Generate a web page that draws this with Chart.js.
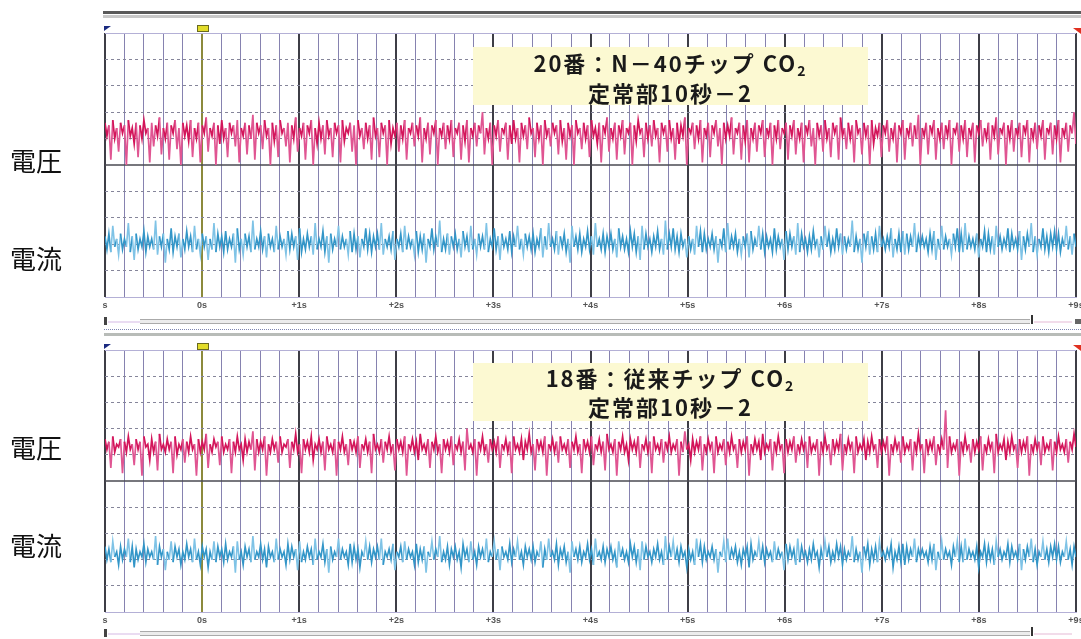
<!DOCTYPE html>
<html><head><meta charset="utf-8">
<script src="https://cdn.jsdelivr.net/npm/chart.js@4.4.1/dist/chart.umd.min.js"></script>
<style>
html,body{margin:0;padding:0;background:#fff;overflow:hidden;width:1081px;height:639px;}
#wrap{position:relative;width:1081px;height:639px;overflow:hidden;}
canvas{position:absolute;left:0;}
.d{position:absolute;}
.side{position:absolute;left:10px;font-family:"Noto Sans CJK JP";font-size:26px;line-height:26px;color:#111;white-space:nowrap;}
.title{position:absolute;left:473px;width:395px;background:#fcf9d2;text-align:center;font-family:"Noto Sans CJK JP";font-weight:700;font-size:22px;color:#1a1a1a;white-space:nowrap;letter-spacing:2px;}
.title sub{font-size:14px;vertical-align:-4px;line-height:0;}
</style></head>
<body><div id="wrap">
<canvas id="c1" width="1100" height="315" style="top:0"></canvas>
<canvas id="c2" width="1100" height="313" style="top:317px"></canvas>

<!-- decorations -->
<div class="d" style="top:11px;left:103px;width:978px;height:3px;background:#5a5a5a"></div>
<div class="d" style="top:15px;left:103px;width:978px;height:3px;background:#c8c8c8"></div>

<div class="d" style="left:104px;top:26px;width:0;height:0;border-top:5px solid #1a2a80;border-right:7px solid transparent"></div>
<div class="d" style="left:197px;top:25px;width:10px;height:5px;background:#e2dc2a;border:1px solid #6a6a20"></div>
<div class="d" style="left:1073px;top:28px;width:0;height:0;border-top:6px solid #e03020;border-left:8px solid transparent"></div>

<div class="d" style="left:104px;top:317px;width:3px;height:8px;background:#444"></div>
<div class="d" style="left:108px;top:321px;width:32px;height:2px;background:#eadcf2"></div>
<div class="d" style="left:140px;top:319px;width:890px;height:3px;background:#ececec;border-top:1px solid #aaa;border-bottom:1px solid #aaa"></div>
<div class="d" style="left:1031px;top:315px;width:2px;height:9px;background:#333"></div>
<div class="d" style="left:1034px;top:321px;width:38px;height:2px;background:#f2dcea"></div>
<div class="d" style="left:1075px;top:319px;width:6px;height:5px;background:#666"></div>
<div class="d" style="left:104px;top:329px;width:977px;height:0;border-top:1px dotted #7c84b0"></div>
<div class="d" style="left:104px;top:333px;width:977px;height:3px;background:#b8bcb8"></div>

<div class="d" style="left:104px;top:344px;width:0;height:0;border-top:5px solid #1a2a80;border-right:7px solid transparent"></div>
<div class="d" style="left:197px;top:343px;width:10px;height:5px;background:#e2dc2a;border:1px solid #6a6a20"></div>
<div class="d" style="left:1073px;top:345px;width:0;height:0;border-top:6px solid #e03020;border-left:8px solid transparent"></div>

<div class="d" style="left:104px;top:629px;width:3px;height:8px;background:#444"></div>
<div class="d" style="left:108px;top:633px;width:32px;height:2px;background:#eadcf2"></div>
<div class="d" style="left:140px;top:631px;width:890px;height:3px;background:#ececec;border-top:1px solid #aaa;border-bottom:1px solid #aaa"></div>
<div class="d" style="left:1031px;top:627px;width:2px;height:9px;background:#333"></div>
<div class="d" style="left:1034px;top:633px;width:38px;height:2px;background:#f2dcea"></div>

<div class="title" style="top:47px;height:58px;line-height:30px;">20番：N－40チップ CO<sub>2</sub><br>定常部10秒－2</div>
<div class="title" style="top:363px;height:58px;line-height:29px;">18番：従来チップ CO<sub>2</sub><br>定常部10秒－2</div>

<div class="side" style="top:147px">電圧</div>
<div class="side" style="top:245px">電流</div>
<div class="side" style="top:434px">電圧</div>
<div class="side" style="top:532px">電流</div>
</div>
<script>
// ---- data (vertical units: 10 per grid division, 0 = panel bottom) ----
const timeStart = -1, timeEnd = 9; // seconds
const tickLabels = {"-1":"s","0":"0s","1":"+1s","2":"+2s","3":"+3s","4":"+4s","5":"+5s","6":"+6s","7":"+7s","8":"+8s","9":"+9s"};

const topVoltage = [
66,61,65,52,67,60,64,55,66,62, 65,50,67,61,64,58,66,53,65,60, 67,62,64,51,66,57,65,61,68,54,
64,60,66,52,65,62,67,56,64,50, 66,61,65,59,67,53,64,60,66,51, 65,62,68,55,64,61,66,50,65,58,
67,60,64,53,66,62,65,57,67,51, 64,61,66,54,65,60,69,52,66,62, 65,56,67,61,64,50,66,59,65,53,
67,62,64,57,66,51,65,60,68,55, 64,61,66,52,65,62,67,50,64,58, 66,60,65,54,67,61,64,53,66,62,
65,51,67,59,64,62,66,55,65,50, 67,61,64,56,66,60,65,52,68,61, 64,53,66,62,65,50,67,58,64,61,
66,55,65,60,67,52,64,62,66,57, 65,61,68,51,64,60,66,54,65,62, 67,50,64,61,66,56,65,60,67,53,
64,62,66,52,65,59,67,51,64,61, 66,57,65,62,70,54,64,60,66,50, 65,61,67,55,64,62,66,52,65,58,
67,60,64,51,66,61,65,56,68,62, 64,53,66,60,65,50,67,61,64,57, 66,62,65,54,67,59,64,52,66,61,
65,50,67,62,64,56,66,60,65,53, 67,61,64,58,66,51,65,62,68,55, 64,60,66,52,65,61,67,54,64,62,
66,50,65,59,67,62,64,53,66,60, 65,57,67,61,64,51,66,62,65,55, 67,60,64,52,66,58,65,61,68,50,
64,62,66,56,65,60,67,51,64,61, 66,53,65,62,67,57,64,50,66,60, 65,61,68,54,64,62,66,52,65,59,
67,51,64,60,66,55,65,62,67,53, 64,61,66,50,65,60,67,56,64,62, 66,52,65,61,67,54,64,60,66,51,
65,62,67,57,64,50,66,61,65,55, 67,60,64,53,66,62,65,52,68,61, 64,56,66,60,65,51,67,62,64,54,
66,61,65,50,67,58,64,61,66,53, 65,62,67,55,64,60,66,51,65,62, 67,52,64,61,66,57,65,60,69,50,
64,61,66,54,65,62,67,52,64,60, 66,56,65,61,67,50,64,62,66,55, 65,60,67,53,64,61,66,51,65,62,
67,57,64,60,66,52,65,61,68,54, 64,62,66,50,65,60,67,55,64,61, 66,53,65,62,67,51,64,60,66,56,
65,61,67,52,64,62,66,54,65,60, 67,51,64,61,66,55,65,62,70,58];

const topCurrent = [
23,18,24,17,27,19,22,16,24,18, 22,19,28,17,23,14,24,18,22,19, 25,17,23,19,22,18,29,16,23,19,
24,13,22,18,26,17,23,19,24,15, 22,18,25,19,23,17,27,18,22,16, 24,19,23,14,22,18,28,17,24,19,
23,17,25,18,22,19,24,13,26,18, 22,16,24,19,23,17,29,18,22,19, 25,18,23,15,24,19,22,17,27,18,
23,19,22,16,25,18,24,19,23,14, 26,17,22,18,24,19,23,16,28,18, 22,19,25,17,23,13,24,18,22,19,
27,18,23,19,22,16,25,17,24,18, 23,15,22,19,26,18,24,17,23,19, 24,18,28,16,22,19,23,18,25,14,
22,19,24,17,27,18,23,19,22,16, 25,17,23,18,24,13,22,19,26,18, 23,19,29,17,22,18,24,16,23,19,
24,18,22,15,25,19,23,17,27,18, 22,16,24,19,23,18,28,17,22,19, 26,18,23,14,24,19,22,18,25,17,
23,19,27,18,22,16,24,19,23,18, 24,17,22,19,26,15,23,18,28,19, 22,18,25,16,23,19,24,17,22,13,
27,19,23,18,24,17,22,19,25,18, 23,16,28,19,22,18,24,17,23,19, 24,18,22,15,26,19,23,18,22,17,
25,19,24,17,23,14,27,18,24,19, 22,17,23,19,25,18,22,16,29,18, 24,19,26,18,23,17,24,19,22,15,
23,18,22,16,27,19,25,17,24,18, 22,19,24,18,23,13,22,19,26,17, 28,18,23,19,24,17,22,16,23,19,
24,15,25,18,22,19,27,18,24,17, 23,19,22,17,26,18,23,19,22,14, 25,18,24,19,23,16,28,17,24,19,
22,17,23,18,25,19,22,15,23,18, 27,19,24,17,22,18,26,19,24,16, 23,18,22,19,29,17,23,18,22,13,
24,19,25,16,23,18,24,17,27,19, 22,18,23,19,26,15,22,18,24,17, 25,16,24,18,23,19,28,17,23,19,
23,19,22,17,24,18,25,14,22,18, 27,18,23,19,22,16,24,19,26,17, 24,17,28,18,23,19,22,18,24,15,
22,19,25,17,24,18,23,16,27,19, 23,18,22,19,26,17,24,19,22,18, 25,14,23,18,24,19,28,17,23,16,
22,19,26,18,23,17,24,19,25,18, 24,17,22,19,27,18,23,16,24,19];

const bottomVoltage = [
66,62,65,55,67,61,64,63,66,53, 65,61,67,62,64,56,66,62,65,52, 67,63,64,58,66,61,65,54,68,62,
64,61,66,62,65,53,67,60,64,62, 66,57,65,61,67,62,64,52,66,61, 65,62,68,55,64,61,66,63,65,56,
67,61,64,62,66,53,65,61,67,62, 64,58,66,61,65,62,69,54,66,61, 65,62,67,52,64,61,66,62,65,57,
67,61,64,63,66,55,65,62,68,61, 64,53,66,62,65,61,67,58,64,62, 66,61,65,54,67,62,64,61,66,52,
65,62,67,61,64,56,66,62,65,61, 67,55,64,62,66,61,65,53,68,62, 64,61,66,57,65,62,67,61,64,54,
66,62,65,61,67,52,64,62,66,61, 65,58,68,62,64,61,66,55,65,62, 67,61,64,53,66,62,65,61,67,56,
64,62,66,61,65,54,70,62,64,61, 66,52,65,62,67,61,64,57,66,62, 65,61,67,55,64,62,66,61,65,53,
67,62,64,61,66,58,65,62,68,61, 64,54,66,62,65,61,67,52,64,62, 66,61,65,57,67,62,64,61,66,55,
65,62,67,61,64,53,66,62,65,61, 67,56,64,62,66,61,65,54,68,62, 64,61,66,52,65,62,67,61,64,58,
66,62,65,61,67,55,64,62,66,61, 65,53,67,62,64,61,66,57,65,62, 67,61,64,62,66,52,65,61,69,62,
64,58,66,61,65,62,67,54,64,61, 66,62,65,53,67,61,64,62,66,56, 65,61,67,62,64,55,66,61,65,62,
67,52,64,61,66,62,65,58,68,61, 64,62,66,54,65,61,67,62,64,53, 66,61,65,62,67,57,64,61,66,62,
65,55,67,61,64,62,66,52,65,61, 67,62,64,56,66,61,65,62,68,54, 64,61,66,62,65,53,67,61,64,62,
66,58,65,61,67,62,64,55,66,61, 65,62,67,52,64,61,66,62,65,57, 67,61,64,62,66,54,65,61,68,62,
64,53,66,61,65,62,67,56,64,61, 66,62,77,55,67,61,64,62,66,52, 65,61,67,62,64,57,66,61,65,62,
67,54,64,61,66,62,65,53,68,61, 64,62,66,58,65,61,67,62,64,55, 66,61,65,62,67,52,64,61,66,62,
65,56,67,61,64,62,66,54,65,61, 67,62,64,61,66,57,65,62,68,63];

const bottomCurrent = [
25,20,24,19,27,21,23,18,25,20, 24,21,28,19,25,17,24,20,23,21, 26,19,24,21,23,20,29,18,25,21,
24,16,23,20,27,19,25,21,24,18, 23,20,26,21,24,19,28,20,23,18, 25,21,24,17,23,20,27,19,25,21,
24,19,26,20,23,21,25,15,27,20, 23,18,25,21,24,19,29,20,23,21, 26,20,24,17,25,21,23,19,28,20,
24,21,23,18,26,20,25,21,24,16, 27,19,23,20,25,21,24,18,28,20, 23,21,26,19,24,15,25,20,23,21,
28,20,24,21,23,18,26,19,25,20, 24,17,23,21,27,20,25,19,24,21, 25,20,28,18,23,21,24,20,26,16,
23,21,25,19,27,20,24,21,23,18, 26,19,24,20,25,15,23,21,27,20, 24,21,29,19,23,20,25,18,24,21,
25,20,23,17,26,21,24,19,27,20, 23,18,25,21,24,20,28,19,23,21, 27,20,24,16,25,21,23,20,26,19,
24,21,27,20,23,18,25,21,24,20, 25,19,23,21,27,17,24,20,28,21, 23,20,26,18,24,21,25,19,23,15,
27,21,24,20,25,19,23,21,26,20, 24,18,28,21,23,20,25,19,24,21, 25,20,23,17,27,21,24,20,23,19,
26,21,25,19,24,16,27,20,25,21, 23,19,24,21,26,20,23,18,29,20, 25,21,27,20,24,19,25,21,23,17,
24,20,23,18,28,21,26,19,25,20, 23,21,25,20,24,15,23,21,27,19, 28,20,24,21,25,19,23,18,24,21,
25,17,26,20,23,21,27,20,25,19, 24,21,23,19,27,20,24,21,23,16, 26,20,25,21,24,18,28,19,25,21,
23,19,24,20,26,21,23,17,24,20, 27,21,25,19,23,20,26,21,25,18, 24,20,23,21,29,19,24,20,23,15,
25,21,26,18,24,20,25,19,27,21, 23,20,24,21,26,17,23,20,25,19, 26,18,25,20,24,21,28,19,24,21,
24,21,23,19,25,20,26,16,23,20, 27,20,24,21,23,18,25,21,27,19, 25,19,28,20,24,21,23,20,25,17,
23,21,26,19,25,20,24,18,27,21, 24,20,23,21,26,19,25,21,23,20, 26,16,24,20,25,21,28,19,24,18,
23,21,27,20,24,19,25,21,26,20, 25,19,23,21,27,20,24,18,25,21];

// ---- styles ----
const RED = '#d3155a', RED_LIGHT = '#e05592';
const BLUE = '#3396c8', BLUE_LIGHT = '#7fc3e6';

function toPoints(arr){
  const n = arr.length;
  return arr.map((v,i)=>({x: timeStart + i*(timeEnd-timeStart)/(n-1), y: v}));
}
function isInt(v){ return Math.abs(v-Math.round(v))<1e-6; }

const panelPlugin = {
  id:'panel',
  beforeDatasetsDraw(chart){
    const {ctx, chartArea:a, scales:{y}} = chart;
    ctx.save();
    ctx.lineWidth = 1;
    ctx.strokeStyle = '#b4b0d6';
    const ty = Math.round(y.getPixelForValue(100))+0.5;
    ctx.beginPath(); ctx.moveTo(a.left, ty); ctx.lineTo(a.right, ty); ctx.stroke();
    ctx.strokeStyle = '#4a4a52';
    ctx.lineWidth = 1.5;
    const cy = y.getPixelForValue(50);
    ctx.beginPath(); ctx.moveTo(a.left, cy); ctx.lineTo(a.right, cy); ctx.stroke();
    ctx.restore();
  }
};

function makeChart(id, volt, curr){
  const seg = (thrLow, thrHigh, dark, light) => ({
    borderColor: c => {
      const lo = Math.min(c.p0.parsed.y, c.p1.parsed.y), hi = Math.max(c.p0.parsed.y, c.p1.parsed.y);
      return (lo < thrLow || hi > thrHigh) ? light : dark;
    }
  });
  return new Chart(document.getElementById(id), {
    type:'line',
    data:{datasets:[
      {data: toPoints(volt), borderColor: RED, borderWidth:1.7, pointRadius:0, tension:0, segment: seg(58, 68, RED, RED_LIGHT)},
      {data: toPoints(curr), borderColor: BLUE, borderWidth:1.6, pointRadius:0, tension:0, segment: seg(17, 26, BLUE, BLUE_LIGHT)}
    ]},
    options:{
      responsive:false, animation:false, devicePixelRatio:1,
      layout:{padding:{left:105, top:33, right:24, bottom:0}},
      plugins:{legend:{display:false}, tooltip:{enabled:false}},
      scales:{
        x:{type:'linear', min:timeStart, max:timeEnd,
           afterFit: s => { s.height = 18; },
           ticks:{stepSize:0.2, autoSkip:false, maxRotation:0, padding:3,
                  color:'#555', font:{family:'Liberation Sans', size:9, weight:'bold'},
                  callback: v => isInt(v) ? (tickLabels[String(Math.round(v))] || '') : ''},
           grid:{drawTicks:false,
                 color: c => { const v=c.tick.value; if(isInt(v)) return Math.round(v)===0 ? '#8c8a3c' : '#3e3e46'; return '#8682b0'; },
                 lineWidth: c => isInt(c.tick.value) ? 2 : 1},
           border:{display:true, color:'#b4b0d6', width:1}
        },
        y:{min:0, max:100,
           afterFit: s => { s.width = 0; },
           ticks:{display:false, stepSize:10},
           grid:{drawTicks:false,
                 color: c => { const v=c.tick.value; return (v===0||v===100||v===50) ? 'rgba(0,0,0,0)' : '#85859a'; },
                 lineWidth:1},
           border:{display:false, dash:[3,3]}
        }
      }
    },
    plugins:[panelPlugin]
  });
}

makeChart('c1', topVoltage, topCurrent);
makeChart('c2', bottomVoltage, bottomCurrent);
</script>
</body></html>
